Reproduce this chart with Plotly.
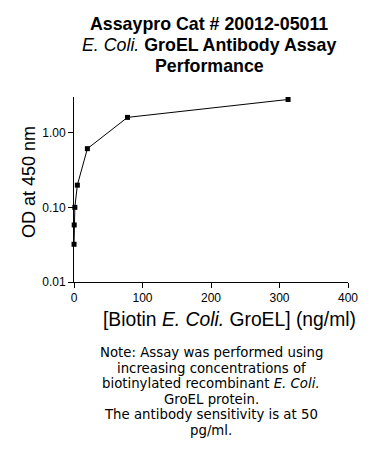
import plotly.graph_objects as go
import math

concentration_ng_ml = [312.5, 78.125, 19.53, 4.88, 1.22, 0.305, 0.076]
od_450 = [2.78, 1.60, 0.61, 0.198, 0.100, 0.058, 0.032]

y_tick_vals = [0.01, 0.1, 1.0]
y_tick_text = ["0.01", "0.10", "1.00"]
x_tick_vals = [0, 100, 200, 300, 400]

FONT = "Arial, Liberation Sans, sans-serif"
NOTE_FONT = "DejaVu Sans, Arial, sans-serif"

# page body has an 8px margin; work in window pixel coords and shift
OFF = 8
W, H = 378 - 2 * OFF, 470 - 2 * OFF
PL, PR, PT, PB = 74, 354, 97, 282  # plot area in window px
L, T = PL - OFF, PT - OFF
R = W - (PR - OFF)
B = H - (PB - OFF)
ph = PB - PT
pw = PR - PL

def py(ypix):
    return (PB - ypix) / ph

def px(xpix):
    return (xpix - PL) / pw

fig = go.Figure()
fig.add_trace(go.Scatter(
    x=concentration_ng_ml, y=od_450, mode="lines+markers",
    line=dict(color="black", width=1),
    marker=dict(symbol="square", size=5, color="black"),
    cliponaxis=False, showlegend=False,
))

title_lines = [
    ("<b>Assaypro Cat # 20012-05011</b>", 23.5),
    ("<i>E. Coli.</i> <b>GroEL Antibody Assay</b>", 44.5),
    ("<b>Performance</b>", 66),
]
note_y0, note_dy = 352.5, 15.5
note_lines = [
    "Note: Assay was performed using",
    "increasing concentrations of",
    "biotinylated recombinant <i>E. Coli.</i>",
    "GroEL protein.",
    "The antibody sensitivity is at 50",
    "pg/ml.",
]

annotations = []
for txt, yp in title_lines:
    annotations.append(dict(text=txt, x=px(212), y=py(yp), xref="paper", yref="paper",
                            xanchor="center", yanchor="middle", showarrow=False,
                            font=dict(family=FONT, size=17.8, color="black")))
for i, txt in enumerate(note_lines):
    annotations.append(dict(text=txt, x=px(214), y=py(note_y0 + i * note_dy),
                            xref="paper", yref="paper",
                            xanchor="center", yanchor="middle", showarrow=False,
                            font=dict(family=NOTE_FONT, size=13.3, color="black")))
# axis titles
annotations.append(dict(text="[Biotin <i>E. Coli.</i> GroEL] (ng/ml)", x=px(233), y=py(319),
                        xref="paper", yref="paper", xanchor="center", yanchor="middle",
                        showarrow=False, font=dict(family=FONT, size=19.3, color="black")))
annotations.append(dict(text="OD at 450 nm", x=px(28), y=py(182), textangle=-90,
                        xref="paper", yref="paper", xanchor="center", yanchor="middle",
                        showarrow=False, font=dict(family=FONT, size=18, color="black")))

fig.update_layout(
    width=W, height=H,
    margin=dict(l=L, r=R, t=T, b=B, pad=0),
    paper_bgcolor="white", plot_bgcolor="white",
    font=dict(family=FONT, color="black"),
    annotations=annotations,
    xaxis=dict(
        range=[0, 400], tickvals=x_tick_vals, showgrid=False, zeroline=False,
        showline=True, linecolor="black", linewidth=1,
        ticks="outside", ticklen=5, tickcolor="black",
        tickfont=dict(size=12, family=FONT),
    ),
    yaxis=dict(
        type="log", range=[-2, math.log10(3)], tickvals=y_tick_vals, ticktext=y_tick_text,
        showgrid=False, zeroline=False,
        showline=True, linecolor="black", linewidth=1,
        ticks="outside", ticklen=5, tickcolor="black",
        tickfont=dict(size=12, family=FONT),
    ),
)

fig.write_html("out.html")
